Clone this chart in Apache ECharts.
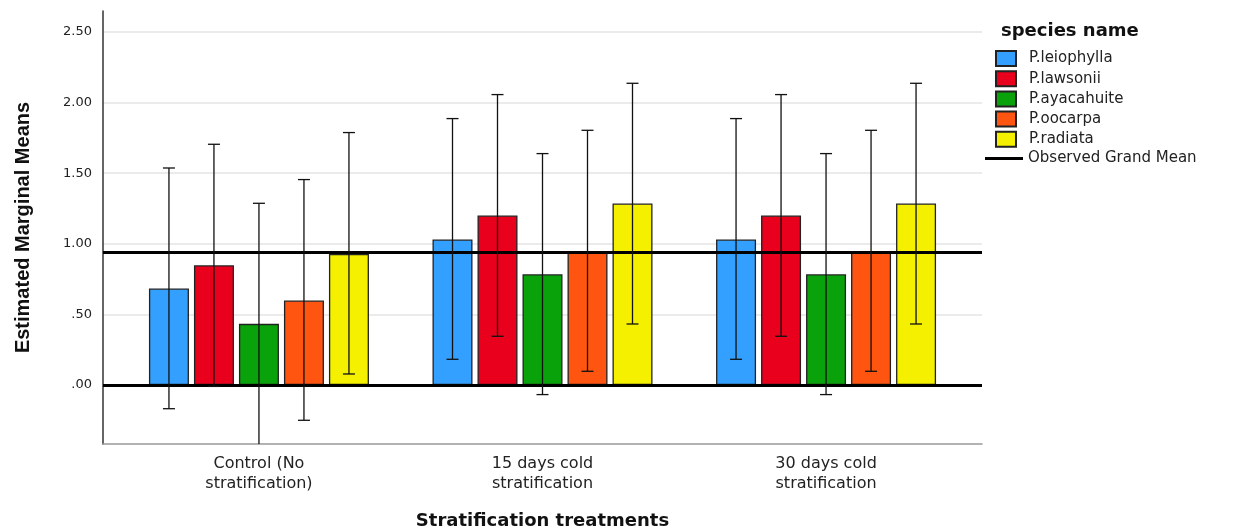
<!DOCTYPE html>
<html>
<head>
<meta charset="utf-8">
<script src="https://cdn.jsdelivr.net/npm/echarts@6/dist/echarts.min.js"></script>
<style>
html,body{margin:0;padding:0;background:#fff;}
#chart{width:1251px;height:532px;}
</style>
</head>
<body>
<div id="chart"></div>
<script>
// ---- data ----
const categories = ['Control (No\nstratification)', '15 days cold\nstratification', '30 days cold\nstratification'];
const speciesNames = ['P.leiophylla', 'P.lawsonii', 'P.ayacahuite', 'P.oocarpa', 'P.radiata'];
// means per species, across the 3 treatments
const meanLeiophylla = [0.683, 1.030, 1.030];
const meanLawsonii   = [0.848, 1.200, 1.200];
const meanAyacahuite = [0.433, 0.784, 0.784];
const meanOocarpa    = [0.598, 0.949, 0.949];
const meanRadiata    = [0.928, 1.285, 1.285];
// error bar lower / upper bounds
const lowLeiophylla = [-0.168, 0.182, 0.182];
const upLeiophylla  = [1.537, 1.887, 1.887];
const lowLawsonii   = [-0.010, 0.345, 0.345];
const upLawsonii    = [1.705, 2.057, 2.057];
const lowAyacahuite = [-0.425, -0.068, -0.068];
const upAyacahuite  = [1.287, 1.639, 1.639];
const lowOocarpa    = [-0.250, 0.097, 0.097];
const upOocarpa     = [1.455, 1.804, 1.804];
const lowRadiata    = [0.078, 0.432, 0.432];
const upRadiata     = [1.788, 2.137, 2.137];
const grandMean = 0.935;
const yTickValues = [0, 0.5, 1, 1.5, 2, 2.5];
const yTickLabels = ['.00', '.50', '1.00', '1.50', '2.00', '2.50'];

// ---- build ----
const means = [meanLeiophylla, meanLawsonii, meanAyacahuite, meanOocarpa, meanRadiata];
const lows = [lowLeiophylla, lowLawsonii, lowAyacahuite, lowOocarpa, lowRadiata];
const ups = [upLeiophylla, upLawsonii, upAyacahuite, upOocarpa, upRadiata];
const colors = ['#33A0FF', '#E8001C', '#0AA20A', '#FF5510', '#F5F000'];

const BAR_W = 40, BAR_PITCH = 45, CAP = 12;

const series = [];
speciesNames.forEach((name, k) => {
  series.push({
    name: name,
    type: 'bar',
    data: means[k].map((v, i) => [i, v]),
    barWidth: BAR_W,
    barGap: '12.5%',
    itemStyle: { color: colors[k], borderColor: '#222', borderWidth: 1.3 },
    z: 2
  });
});
speciesNames.forEach((name, k) => {
  series.push({
    name: 'err-' + k,
    type: 'custom',
    clip: true,
    z: 10,
    silent: true,
    encode: { x: 0, y: [1, 2] },
    data: lows[k].map((lo, i) => [i, lo, ups[k][i]]),
    renderItem: function (params, api) {
      const x = api.value(0);
      const lo = api.coord([x, api.value(1)]);
      const hi = api.coord([x, api.value(2)]);
      const dx = (k - 2) * BAR_PITCH;
      const px = lo[0] + dx;
      const st = { stroke: '#111', lineWidth: 1.3 };
      return {
        type: 'group',
        children: [
          { type: 'line', shape: { x1: px, y1: lo[1], x2: px, y2: hi[1] }, style: st },
          { type: 'line', shape: { x1: px - CAP / 2, y1: hi[1], x2: px + CAP / 2, y2: hi[1] }, style: st },
          { type: 'line', shape: { x1: px - CAP / 2, y1: lo[1], x2: px + CAP / 2, y2: lo[1] }, style: st }
        ]
      };
    }
  });
});
series.push({
  name: 'Observed Grand Mean',
  type: 'line',
  data: [],
  color: '#000',
  z: 5,
  markLine: {
    silent: true,
    symbol: ['none', 'none'],
    label: { show: false },
    lineStyle: { color: '#000', width: 3, type: 'solid' },
    emphasis: { disabled: true },
    data: [{ yAxis: 0 }, { yAxis: grandMean }]
  }
});

const option = {
  animation: false,
  backgroundColor: '#fff',
  textStyle: { fontFamily: 'DejaVu Sans' },
  title: {
    text: 'species name',
    left: 996, top: 17,
    textStyle: { fontFamily: 'DejaVu Sans', fontWeight: 'bold', fontSize: 18, color: '#111' }
  },
  legend: [{
    data: speciesNames,
    orient: 'vertical',
    left: 995, top: 50, padding: 0,
    itemWidth: 20, itemHeight: 15, itemGap: 3.2,
    icon: 'rect',
    selectedMode: false,
    textStyle: { fontSize: 15, lineHeight: 15, color: '#222', padding: [0, 0, 0, 8] }
  }, {
    data: [{ name: 'Observed Grand Mean', icon: 'rect' }],
    orient: 'vertical',
    left: 985, top: 151, padding: 0,
    itemWidth: 38, itemHeight: 3,
    selectedMode: false,
    textStyle: { fontSize: 15, lineHeight: 15, color: '#222' }
  }],
  grid: { left: 103, right: 269, top: 11, bottom: 88, containLabel: false, outerBoundsMode: 'none' },
  xAxis: {
    type: 'value',
    min: -0.55, max: 2.55,
    name: 'Stratification treatments',
    nameLocation: 'middle',
    nameGap: 68,
    nameTextStyle: { fontFamily: 'DejaVu Sans', fontWeight: 'bold', fontSize: 18, color: '#111' },
    axisLine: { show: true, onZero: false, lineStyle: { color: '#999', width: 1.5 } },
    axisTick: { show: false, customValues: [0, 1, 2] },
    splitLine: { show: false },
    axisLabel: {
      customValues: [0, 1, 2],
      formatter: v => categories[Math.round(v)],
      fontSize: 16, lineHeight: 20, color: '#222', margin: 10
    }
  },
  yAxis: {
    type: 'value',
    min: -0.418, max: 2.649,
    name: 'Estimated Marginal Means',
    nameLocation: 'middle',
    nameGap: 70,
    nameTextStyle: { fontFamily: 'Liberation Sans', fontWeight: 'bold', fontSize: 20, color: '#111' },
    axisLine: { show: true, onZero: false, lineStyle: { color: '#333', width: 1.5 } },
    axisTick: { show: false, customValues: yTickValues },
    splitLine: { show: true, lineStyle: { color: '#e4e4e4', width: 1.5 } },
    axisLabel: {
      customValues: yTickValues,
      formatter: v => { const i = yTickValues.findIndex(t => Math.abs(t - v) < 1e-6); return i >= 0 ? yTickLabels[i] : ''; },
      fontSize: 13, color: '#222', margin: 11
    }
  },
  series: series
};

const chart = echarts.init(document.getElementById('chart'), null, { renderer: 'canvas' });
chart.setOption(option);
</script>
</body>
</html>
